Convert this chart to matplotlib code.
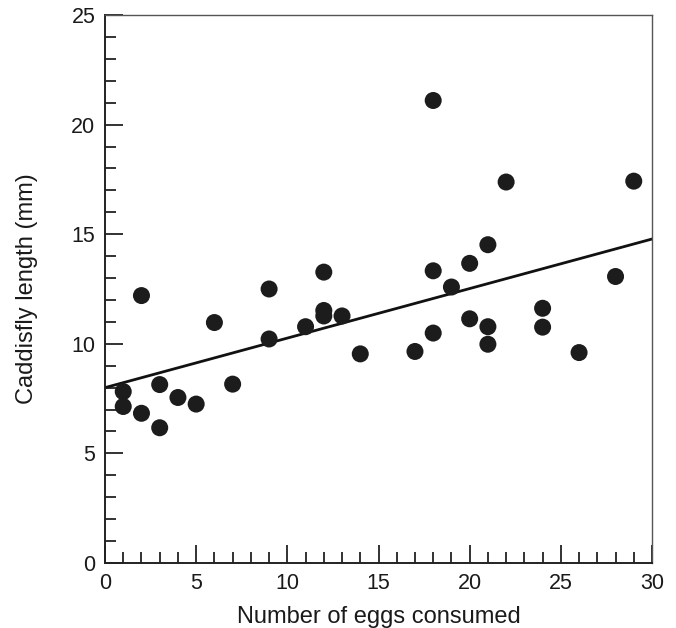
import numpy as np
import matplotlib
matplotlib.use("Agg")
import matplotlib.pyplot as plt
from matplotlib.ticker import MultipleLocator

# --- data ---
eggs = [1, 1, 2, 2, 3, 3, 4, 5, 6, 7, 9, 9, 11, 12, 12, 12, 13, 14, 17,
        18, 18, 18, 19, 20, 20, 21, 21, 21, 22, 24, 24, 26, 28, 29]
length_mm = [7.82, 7.14, 6.83, 12.2, 8.14, 6.17, 7.55, 7.25, 10.97, 8.16,
             12.5, 10.22, 10.78, 13.27, 11.52, 11.27, 11.27, 9.54, 9.65,
             21.1, 13.33, 10.49, 12.59, 13.67, 11.14, 14.52, 10.78, 9.98,
             17.38, 11.62, 10.76, 9.6, 13.07, 17.42]

# fitted line as drawn
intercept = 8.0
slope = 0.226

plt.rcParams["font.family"] = ["Liberation Sans", "DejaVu Sans"]

fig = plt.figure(figsize=(6.76, 6.28), dpi=100)
ax = fig.add_axes([105 / 676, 1 - 563 / 628, 547 / 676, 548 / 628])

ax.scatter(eggs, length_mm, s=150, color="#1c1c1c", edgecolors="none", zorder=3)

xl = np.array([0, 30])
ax.plot(xl, intercept + slope * xl, color="#111111", lw=2.0, zorder=2)

ax.set_xlim(0, 30)
ax.set_ylim(0, 25)
ax.xaxis.set_major_locator(MultipleLocator(5))
ax.xaxis.set_minor_locator(MultipleLocator(1))
ax.yaxis.set_major_locator(MultipleLocator(5))
ax.yaxis.set_minor_locator(MultipleLocator(1))

ax.tick_params(which="both", direction="in", width=1.3, colors="#222222",
               labelsize=15.5, top=False, right=False)
ax.tick_params(which="major", length=13, pad=7)
ax.tick_params(which="minor", length=8)
ax.tick_params(axis="both", labelcolor="#1a1a1a")

for side in ["left", "bottom"]:
    ax.spines[side].set_linewidth(1.4)
    ax.spines[side].set_color("#222222")
for side in ["top", "right"]:
    ax.spines[side].set_linewidth(1.0)
    ax.spines[side].set_color("#555555")

ax.set_xlabel("Number of eggs consumed", fontsize=17, color="#1a1a1a", labelpad=9)
ax.set_ylabel("Caddisfly length (mm)", fontsize=17, color="#1a1a1a", labelpad=24)

fig.savefig("out.png", dpi=100)
